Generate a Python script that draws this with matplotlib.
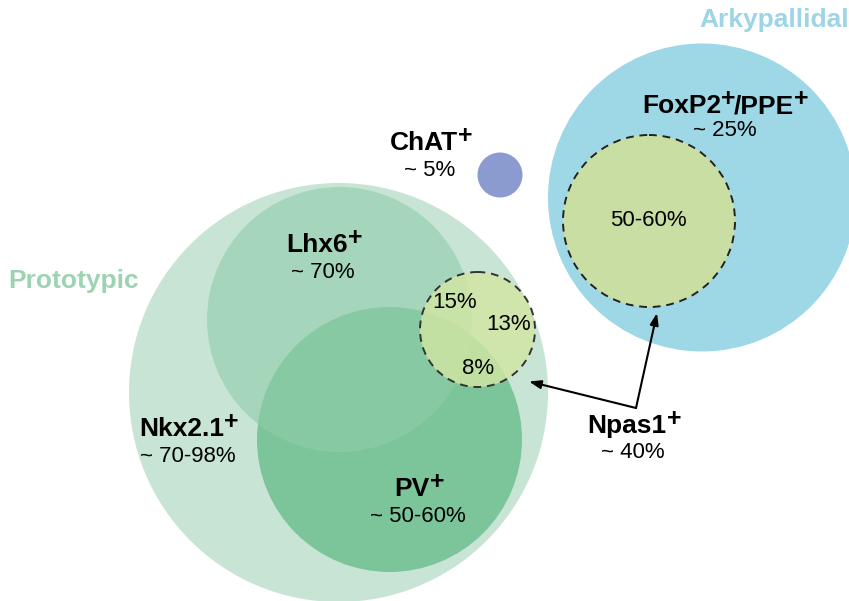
import matplotlib
matplotlib.use("Agg")
import matplotlib.pyplot as plt
from matplotlib.patches import Circle

plt.rcParams['font.family'] = ['Liberation Sans', 'DejaVu Sans']

# populations and their share of GPe neurons
markers = ["Nkx2.1", "Lhx6", "PV", "ChAT", "Npas1", "FoxP2"]
shares = ["~ 70-98%", "~ 70%", "~ 50-60%", "~ 5%", "~ 40%", "~ 25%"]
npas1_overlap_labels = ["15%", "13%", "8%"]
arky_overlap_label = "50-60%"
groups = ["Prototypic", "Arkypallidal"]

fig = plt.figure(figsize=(8.49, 6.01), dpi=100)
ax = fig.add_axes([0, 0, 1, 1])
ax.set_xlim(0, 849)
ax.set_ylim(601, 0)
ax.set_aspect('equal')
ax.axis('off')

# prototypic circles
ax.add_patch(Circle((338.5, 392.5), 209.5, color='#c8e4d5', lw=0, zorder=1))
ax.add_patch(Circle((389.5, 439.5), 132.5, color='#7cc59b', lw=0, zorder=2))
ax.add_patch(Circle((339.5, 319.5), 132.5, color='#8fcdaa', alpha=0.6, lw=0, zorder=3))
# Npas1 within prototypic
ax.add_patch(Circle((477.5, 329.5), 57.5, facecolor='#d2e6a2', alpha=0.8, lw=0, zorder=4))
ax.add_patch(Circle((477.5, 329.5), 57.5, fill=False, ec='#333333', lw=1.4,
                    ls=(0, (4, 3)), zorder=5))
# ChAT
ax.add_patch(Circle((500, 175), 22.5, color='#8b9bd0', lw=0, zorder=1))
# arkypallidal
ax.add_patch(Circle((702, 197.5), 154, color='#9ed7e5', lw=0, zorder=1))
ax.add_patch(Circle((649, 221), 86, facecolor='#c9dea2', ec='#222222', lw=1.4,
                    ls=(0, (4, 3)), zorder=2))

BIG = 19
SMALL = 16

def plus(t):
    # superscript-like bold plus after a name
    return ax.annotate("+", xy=(1.0, 0.78), xycoords=t, fontsize=BIG - 1,
                       fontweight='bold', ha='left', va='center', zorder=10)

def label(x, y, name, share):
    # shift a little left so name + '+' is centred on x
    t = ax.text(x - 6, y, name, fontsize=BIG, fontweight='bold',
                ha='center', va='center', zorder=10)
    plus(t)
    ax.text(x, y + 27, share, fontsize=SMALL, ha='center', va='center', zorder=10)

label(188, 429, markers[0], shares[0])
label(323, 245, markers[1], shares[1])
label(418, 489, markers[2], shares[2])
label(430, 143, markers[3], shares[3])
label(633, 426, markers[4], shares[4])

t1 = ax.text(642, 106, markers[5], fontsize=BIG, fontweight='bold',
             ha='left', va='center', zorder=10)
p1 = plus(t1)
t2 = ax.annotate("/PPE", xy=(0.9, 0.22), xycoords=p1, fontsize=BIG,
                 fontweight='bold', ha='left', va='center', zorder=10)
plus(t2)
ax.text(725, 131, shares[5], fontsize=SMALL, ha='center', va='center', zorder=10)

ax.text(455, 303, npas1_overlap_labels[0], fontsize=SMALL, ha='center', va='center', zorder=10)
ax.text(509, 325, npas1_overlap_labels[1], fontsize=SMALL, ha='center', va='center', zorder=10)
ax.text(478, 369, npas1_overlap_labels[2], fontsize=SMALL, ha='center', va='center', zorder=10)
ax.text(648, 220, arky_overlap_label, fontsize=SMALL, ha='center', va='center', zorder=10)

ax.text(8, 281, groups[0], fontsize=BIG, fontweight='bold', color='#9dd3b3',
        ha='left', va='center')
ax.text(849, 20, groups[1], fontsize=BIG, fontweight='bold', color='#9dd5e6',
        ha='right', va='center')

# Npas1 arrows
for tip in [(529, 381.5), (657, 313)]:
    ax.annotate("", xy=tip, xytext=(636, 408),
                arrowprops=dict(arrowstyle='-|>,head_length=0.7,head_width=0.25',
                                color='black', lw=1.5, shrinkA=0, shrinkB=0),
                zorder=11)

fig.savefig("out.png", dpi=100)
